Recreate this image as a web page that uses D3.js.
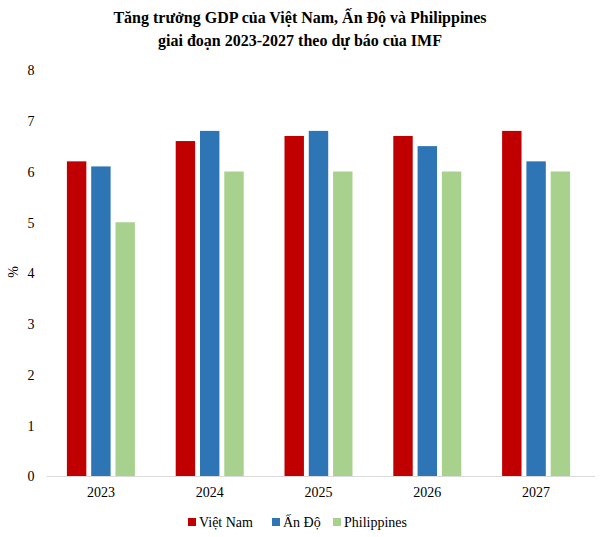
<!DOCTYPE html>
<html><head><meta charset="utf-8">
<script src="https://cdn.jsdelivr.net/npm/d3@7/dist/d3.min.js"></script>
<style>body{margin:0;background:#fff}svg{display:block}text{font-family:"Liberation Serif","Times New Roman",serif !important}</style>
</head><body>
<svg id="c" width="601" height="537"></svg>
<script>
const years = ["2023","2024","2025","2026","2027"];
const seriesNames = ["Việt Nam","Ấn Độ","Philippines"];
const vietnam = [6.2, 6.6, 6.7, 6.7, 6.8];
const india = [6.1, 6.8, 6.8, 6.5, 6.2];
const philippines = [5.0, 6.0, 6.0, 6.0, 6.0];
const yTicks = [0,1,2,3,4,5,6,7,8];
const colors = ["#C00000","#2E75B6","#A9D18E"];
const titleLines = ["Tăng trưởng GDP của Việt Nam, Ấn Độ và Philippines","giai đoạn 2023-2027 theo dự báo của IMF"];

(function(){
const seriesVals = [vietnam, india, philippines];
const svg = d3.select("#c");
const pLeft = 46.5, pRight = 590.5, pTop = 70, pBottom = 476;

const x0 = d3.scaleBand().domain(years).range([pLeft,pRight]).paddingInner(0.375).paddingOuter(0.1875);
const x1 = d3.scaleBand().domain(seriesNames).range([0,x0.bandwidth()]).paddingInner(0.2).paddingOuter(0);
const y = d3.scaleLinear().domain([0,8]).range([pBottom,pTop]);

svg.append("g").selectAll("text").data(titleLines).join("text")
  .attr("x",300).attr("y",(d,i)=>23+i*23).attr("text-anchor","middle")
  .attr("font-size",16).attr("font-weight","bold").attr("fill","#000").text(d=>d);

const yAx = svg.append("g").attr("transform",`translate(${pLeft-10},0)`)
  .call(d3.axisLeft(y).tickValues(yTicks).tickSize(0).tickPadding(0).tickFormat(d3.format("d")));
yAx.select(".domain").remove();
yAx.selectAll("text").attr("font-size",14).attr("fill","#000").attr("dx","-2").attr("dy","0.35em");

svg.append("text").attr("transform",`translate(18,272) rotate(-90)`).attr("text-anchor","middle")
  .attr("font-size",14).attr("fill","#000").text("%");

const groups = svg.append("g").selectAll("g").data(years).join("g")
  .attr("transform",d=>`translate(${x0(d)},0)`);
groups.selectAll("rect").data((d,i)=>seriesNames.map((s,j)=>({s,j,v:seriesVals[j][i]}))).join("rect")
  .attr("x",d=>x1(d.s)).attr("width",x1.bandwidth())
  .attr("y",d=>y(d.v)).attr("height",d=>pBottom-y(d.v)).attr("fill",d=>colors[d.j]);

const xAx = svg.append("g").attr("transform",`translate(0,${pBottom})`)
  .call(d3.axisBottom(x0).tickSize(0).tickPadding(11));
xAx.select(".domain").attr("stroke","#d9d9d9").attr("d",`M${pLeft},0.5H595`);
xAx.selectAll("text").attr("font-size",14).attr("fill","#000");

const legX = [188,272,333];
const leg = svg.append("g").selectAll("g").data(seriesNames).join("g")
  .attr("transform",(d,i)=>`translate(${legX[i]},522)`);
leg.append("rect").attr("x",0).attr("y",-4).attr("width",8).attr("height",8).attr("fill",(d,i)=>colors[i]);
leg.append("text").attr("x",11).attr("y",0).attr("dy","0.35em").attr("font-size",14).attr("fill","#000").text(d=>d);
})();
</script>
</body></html>
